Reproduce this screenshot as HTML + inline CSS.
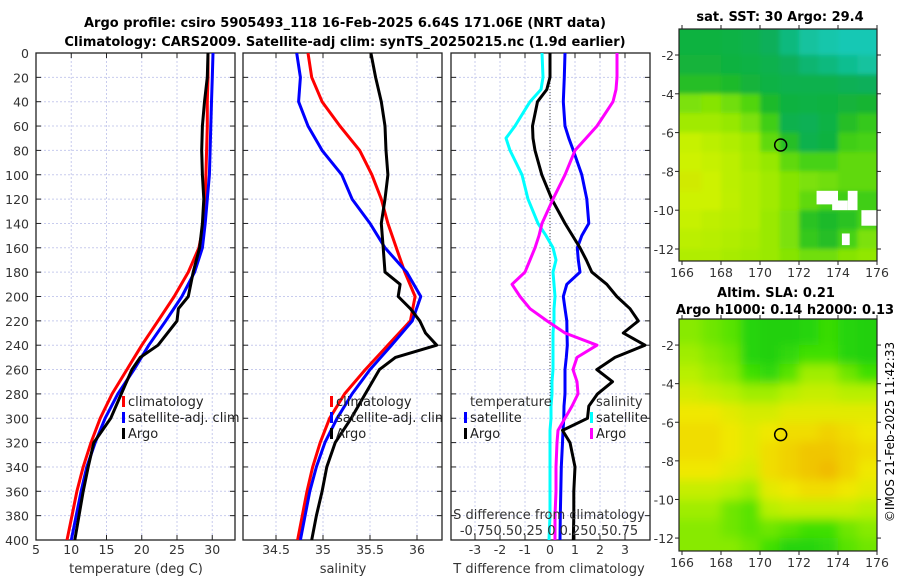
<!DOCTYPE html>
<html><head><meta charset="utf-8"><style>
html,body{margin:0;padding:0;background:#fff;}
svg{display:block;font-family:"DejaVu Sans","Liberation Sans",sans-serif;}
</style></head><body>
<svg id="c" width="900" height="580" viewBox="0 0 900 580" xmlns="http://www.w3.org/2000/svg">
<defs>
<clipPath id="cp1"><rect x="36" y="53" width="199" height="487"/></clipPath>
<clipPath id="cp2"><rect x="243" y="53" width="199" height="487"/></clipPath>
<clipPath id="cp3"><rect x="451" y="53" width="199" height="487"/></clipPath>
<clipPath id="cm1"><rect x="679" y="29" width="198" height="232"/></clipPath>
<clipPath id="cm2"><rect x="679" y="319" width="198" height="232"/></clipPath>
<filter id="bl1" x="-5%" y="-5%" width="110%" height="110%"><feGaussianBlur stdDeviation="2"/></filter>
<filter id="bl2" x="-5%" y="-5%" width="110%" height="110%"><feGaussianBlur stdDeviation="5"/></filter>
</defs>
<text x="345" y="27" text-anchor="middle" font-size="13" font-weight="bold">Argo profile: csiro 5905493_118 16-Feb-2025 6.64S 171.06E (NRT data)</text>
<text x="345" y="46" text-anchor="middle" font-size="13" font-weight="bold">Climatology: CARS2009. Satellite-adj clim: synTS_20250215.nc (1.9d earlier)</text>
<text x="780" y="21" text-anchor="middle" font-size="13" font-weight="bold">sat. SST: 30 Argo: 29.4</text>
<text x="776" y="297" text-anchor="middle" font-size="13" font-weight="bold">Altim. SLA: 0.21</text>
<text x="785" y="314" text-anchor="middle" font-size="13" font-weight="bold">Argo h1000: 0.14 h2000: 0.13</text>
<text transform="translate(894,432) rotate(-90)" text-anchor="middle" font-size="12">©IMOS 21-Feb-2025 11:42:33</text>
<g id="root"></g>
</svg>
<script>
// ---- profile data ----
const depths = [0,20,40,60,80,100,120,140,160,180,200,220,240,260,280,300,320,340,360,380,400];
const tempClim = [29.4,29.4,29.3,29.3,29.2,29.1,29.0,28.8,28.1,26.6,24.6,22.3,20.0,17.9,15.8,14.1,12.8,11.7,10.8,10.1,9.4];
const tempSat  = [30.1,30.0,29.9,29.8,29.7,29.6,29.3,29.0,28.6,27.5,25.7,23.4,21.0,18.9,16.6,14.8,13.4,12.2,11.4,10.7,10.0];
const argoTempDepths = [0,20,30,40,60,80,100,120,140,160,180,200,210,220,240,250,260,280,300,320,340,360,380,400];
const tempArgo = [29.4,29.3,29.1,28.9,28.6,28.5,28.6,28.8,28.6,28.2,27.3,26.6,25.2,25.0,22.3,19.8,18.6,17.1,15.6,13.2,12.4,11.7,11.1,10.5];
const salClim = [34.84,34.88,34.99,35.18,35.39,35.52,35.62,35.69,35.78,35.87,35.98,35.93,35.69,35.45,35.23,35.07,34.97,34.89,34.83,34.78,34.73];
const salSat  = [34.72,34.76,34.74,34.84,34.99,35.20,35.31,35.50,35.66,35.89,36.04,35.95,35.73,35.50,35.31,35.15,35.02,34.93,34.86,34.81,34.76];
const argoSalDepths = [0,20,40,60,80,100,120,140,160,180,190,200,210,220,230,240,250,260,280,300,320,340,360,380,400];
const salArgo = [35.51,35.56,35.62,35.66,35.67,35.69,35.66,35.62,35.64,35.66,35.82,35.80,35.93,36.03,36.09,36.21,35.77,35.60,35.45,35.30,35.13,35.04,34.99,34.93,34.88];
const diffDepths = [0,20,30,40,60,70,80,100,120,140,150,160,170,180,190,200,210,220,230,240,250,260,270,280,290,300,310,320,340,360,380,400];
const tDiffSat  = [0.6,0.57,0.55,0.53,0.6,0.75,0.93,1.27,1.47,1.55,1.27,1.09,1.13,1.2,0.67,0.53,0.6,0.67,0.68,0.69,0.65,0.6,0.6,0.6,0.56,0.55,0.52,0.5,0.45,0.43,0.41,0.4];
const tDiffArgo = [0,0,-0.13,-0.5,-0.7,-0.68,-0.6,-0.33,0.07,0.6,0.9,1.2,1.45,1.67,2.27,2.67,3.2,3.53,2.93,3.8,2.6,1.87,2.5,1.9,1.55,1.5,0.5,0.8,1.0,0.95,0.95,0.93];
const sDiffSat  = [-0.08,-0.07,-0.09,-0.2,-0.35,-0.44,-0.4,-0.28,-0.22,-0.12,-0.04,0.03,0.06,0.03,0.04,0.05,0.04,0.04,0.03,0.03,0.03,0.03,0.02,0.02,0.01,0.01,0.0,0.0,0.0,0.0,0.0,-0.01];
const sDiffArgo = [0.67,0.67,0.66,0.63,0.47,0.36,0.25,0.15,0.03,-0.08,-0.11,-0.15,-0.2,-0.25,-0.38,-0.3,-0.2,-0.03,0.15,0.47,0.27,0.23,0.27,0.28,0.22,0.15,0.08,0.07,0.06,0.06,0.05,0.05];
const depthTicks = [0,20,40,60,80,100,120,140,160,180,200,220,240,260,280,300,320,340,360,380,400];
const tempTicks = [5,10,15,20,25,30];
const salTicks = [34.5,35,35.5,36];
const tDiffTicks = [-3,-2,-1,0,1,2,3];
// ---- map data (values 0..1 in colour scale) ----
const mapLons = [166,167,168,169,170,171,172,173,174,175,176];
const mapLats = [-0.66,-2,-3,-4,-5,-6,-7,-8,-9,-10,-11,-12,-12.6];
const sstGrid = [
[0.3,0.3,0.28,0.25,0.2,0.12,0.05,0.02,0.0,0.0],
[0.32,0.32,0.3,0.28,0.25,0.2,0.15,0.12,0.08,0.05],
[0.4,0.4,0.38,0.32,0.28,0.25,0.25,0.25,0.22,0.2],
[0.6,0.62,0.58,0.52,0.38,0.3,0.28,0.3,0.32,0.35],
[0.68,0.68,0.65,0.6,0.48,0.25,0.22,0.28,0.4,0.45],
[0.78,0.75,0.72,0.68,0.55,0.4,0.25,0.3,0.48,0.5],
[0.8,0.78,0.75,0.7,0.65,0.55,0.5,0.5,0.55,0.55],
[0.82,0.8,0.75,0.72,0.68,0.62,0.6,0.58,0.55,0.55],
[0.8,0.8,0.76,0.72,0.68,0.62,0.55,0.5,0.48,0.48],
[0.78,0.76,0.74,0.72,0.66,0.6,0.42,0.38,0.42,0.5],
[0.75,0.74,0.72,0.7,0.66,0.6,0.45,0.4,0.5,0.6],
[0.72,0.72,0.7,0.68,0.66,0.62,0.58,0.58,0.62,0.64]];
const slaGrid = [
[0.45,0.4,0.35,0.15,0.1,0.1,0.15,0.25,0.15,0.1],
[0.5,0.45,0.4,0.15,0.1,0.2,0.3,0.3,0.15,0.1],
[0.55,0.5,0.45,0.3,0.2,0.35,0.5,0.5,0.4,0.3],
[0.65,0.6,0.55,0.5,0.5,0.55,0.6,0.6,0.55,0.55],
[0.75,0.75,0.7,0.65,0.65,0.7,0.7,0.7,0.7,0.7],
[0.8,0.8,0.75,0.7,0.75,0.8,0.8,0.85,0.8,0.75],
[0.8,0.8,0.75,0.7,0.8,0.85,0.9,0.9,0.85,0.8],
[0.75,0.75,0.7,0.65,0.8,0.85,0.9,0.95,0.85,0.75],
[0.6,0.6,0.55,0.5,0.7,0.75,0.8,0.8,0.75,0.7],
[0.5,0.5,0.4,0.35,0.55,0.6,0.6,0.6,0.6,0.55],
[0.45,0.45,0.4,0.35,0.4,0.35,0.3,0.3,0.4,0.45],
[0.45,0.45,0.45,0.4,0.3,0.15,0.15,0.2,0.35,0.4]];
const sstMissing = [[172.9,-9,1.1,0.7],[174.5,-9,0.5,1.0],[175.2,-10,1.0,0.8],[174.2,-11.2,0.4,0.6],[173.7,-9.5,0.8,0.5]];
const argoPos = [171.06,-6.64];
const lonTicks = [166,168,170,172,174,176];
const latTicks = [-2,-4,-6,-8,-10,-12];

const NS='http://www.w3.org/2000/svg';
const root=document.getElementById('root');
function mk(tag,attrs,parent){const e=document.createElementNS(NS,tag);for(const k in attrs)e.setAttribute(k,attrs[k]);(parent||root).appendChild(e);return e;}
const Y0=53,Y1=540;
const yD=d=>Y0+d*(Y1-Y0)/400;
const xT=v=>36+(v-5)*7.05;
const xS=v=>276+(v-34.5)*94;
const xTd=v=>550+v*25;
const xSd=v=>550+v*100;

function panel(x0,x1,name,xticks,xf,tickLabels){
  const g=mk('g',{});
  
  
  xticks.forEach(t=>{const x=xf(t);const l=mk('line',{x1:x,x2:x,y1:Y0,y2:Y1,stroke:'#c8ccee','stroke-width':1,'stroke-dasharray':'2,2'},g);
    });
  depthTicks.forEach(d=>{const y=yD(d);const l=mk('line',{x1:x0,x2:x1,y1:y,y2:y,stroke:'#c8ccee','stroke-width':1,'stroke-dasharray':'2,2'},g);
    
    mk('line',{x1:x0,x2:x0+5,y1:y,y2:y,stroke:'#222'},g);mk('line',{x1:x1-5,x2:x1,y1:y,y2:y,stroke:'#222'},g);});
  xticks.forEach((t,i)=>{const x=xf(t);mk('line',{x1:x,x2:x,y1:Y1,y2:Y1-5,stroke:'#222'},g);mk('line',{x1:x,x2:x,y1:Y0,y2:Y0+5,stroke:'#222'},g);
    const tx=mk('text',{x:x,y:Y1+14,'text-anchor':'middle','font-size':12.5,fill:'#333'},g);tx.textContent=tickLabels[i];
    });
  const fr=mk('rect',{x:x0,y:Y0,width:x1-x0,height:Y1-Y0,fill:'none',stroke:'#222','stroke-width':1.3},g);
  
  return g;
}
function line(g,xs,ds,xf,color,name,clip){
  const p=xs.map((v,i)=>(i?'L':'M')+xf(v).toFixed(1)+','+yD(ds[i]).toFixed(1)).join('');
  const e=mk('path',{d:p,fill:'none',stroke:color,'stroke-width':3,'stroke-linejoin':'round','clip-path':'url(#'+clip+')'},g);
  
}
function legend(g,x,y,color,label,name){
  mk('rect',{x:x,y:y-10,width:3,height:11,fill:color},g);
  const t=mk('text',{x:x+6,y:y,'font-size':13,fill:'#222'},g);t.textContent=label;
  
}
function txt(g,x,y,s,name,anchor,size){const t=mk('text',{x:x,y:y,'font-size':size||13,fill:'#333','text-anchor':anchor||'start'},g);t.textContent=s;
  return t;}

// panel 1
const g1=panel(36,235,'temperature-panel',tempTicks,xT,tempTicks.map(String));
depthTicks.forEach(d=>{txt(g1,29,yD(d)+5,String(d),'depth-tick-label','end',12.5);});
line(g1,tempClim,depths,xT,'#f00','temp-climatology-line','cp1');
line(g1,tempSat,depths,xT,'#00f','temp-satellite-line','cp1');
line(g1,tempArgo,argoTempDepths,xT,'#000','temp-argo-line','cp1');
legend(g1,122,406,'#f00','climatology','legend-climatology');
legend(g1,122,422,'#00f','satellite-adj. clim','legend-satellite');
legend(g1,122,438,'#000','Argo','legend-argo');
txt(g1,136,573,'temperature (deg C)','x-axis-title-temperature','middle',13);

// panel 2
const g2=panel(243,442,'salinity-panel',salTicks,xS,['34.5','35','35.5','36']);
line(g2,salClim,depths,xS,'#f00','sal-climatology-line','cp2');
line(g2,salSat,depths,xS,'#00f','sal-satellite-line','cp2');
line(g2,salArgo,argoSalDepths,xS,'#000','sal-argo-line','cp2');
const lg2=mk('g',{'clip-path':'url(#cp2)'},g2);
legend(lg2,330,406,'#f00','climatology','legend-climatology');
legend(lg2,330,422,'#00f','satellite-adj. clim','legend-satellite');
legend(lg2,330,438,'#000','Argo','legend-argo');
txt(g2,343,573,'salinity','x-axis-title-salinity','middle',13);

// panel 3
const g3=panel(451,650,'difference-panel',tDiffTicks,xTd,tDiffTicks.map(String));
const zl=mk('line',{x1:550,x2:550,y1:Y0,y2:Y1,stroke:'#444','stroke-width':1,'stroke-dasharray':'1,2'},g3);

line(g3,sDiffSat,diffDepths,xSd,'#0ff','sal-diff-satellite-line','cp3');
line(g3,tDiffSat,diffDepths,xTd,'#00f','temp-diff-satellite-line','cp3');
line(g3,tDiffArgo,diffDepths,xTd,'#000','temp-diff-argo-line','cp3');
line(g3,sDiffArgo,diffDepths,xSd,'#f0f','sal-diff-argo-line','cp3');
txt(g3,470,406,'temperature','legend-title-temperature','start',13);
legend(g3,464,422,'#00f','satellite','legend-temp-satellite');
legend(g3,464,438,'#000','Argo','legend-temp-argo');
txt(g3,596,406,'salinity','legend-title-salinity','start',13);
legend(g3,590,422,'#0ff','satellite','legend-sal-satellite');
legend(g3,590,438,'#f0f','Argo','legend-sal-argo');
txt(g3,549,519,'S difference from climatology','s-axis-title','middle',13);
txt(g3,549,535,'-0.750.50.25 0 0.250.50.75','s-axis-tick-labels','middle',13);
txt(g3,549,573,'T difference from climatology','x-axis-title-tdiff','middle',13);

// maps
function cmapSST(v){const stops=[[0,[20,200,180]],[0.2,[10,175,90]],[0.35,[20,180,50]],[0.5,[70,210,20]],[0.65,[150,232,0]],[0.8,[205,242,0]],[1,[240,160,0]]];return interp(stops,v);}
function cmapSLA(v){const stops=[[0,[16,200,24]],[0.3,[64,224,0]],[0.55,[184,240,0]],[0.75,[240,232,0]],[1,[240,176,0]]];return interp(stops,v);}
function interp(stops,v){for(let i=1;i<stops.length;i++){if(v<=stops[i][0]){const a=stops[i-1],b=stops[i];const f=(v-a[0])/(b[0]-a[0]);return 'rgb('+a[1].map((c,k)=>Math.round(c+(b[1][k]-c)*f)).join(',')+')';}}return 'rgb('+stops[stops.length-1][1].join(',')+')';}
function drawMap(name,grid,cmap,x0,x1,yTop,yBot,latTop,pxPerLat,clip,filt,missing){
  const xL=lon=>682+(lon-166)*19.5;
  const yL=lat=>yTop+(latTop-lat)*pxPerLat;
  const g=mk('g',{});
  
  const cg=mk('g',{'clip-path':'url(#'+clip+')'},g);
  const hg=mk('g',{filter:'url(#'+filt+')'},cg);
  grid.forEach((row,r)=>row.forEach((v,c)=>{
    const xa=c===0?x0-12:xL(mapLons[c]);const xb=c===row.length-1?x1+12:xL(mapLons[c+1]);
    const ya=r===0?yTop-12:yL(mapLats[r]);const yb=r===grid.length-1?yBot+12:yL(mapLats[r+1]);
    const e=mk('rect',{x:xa,y:ya,width:xb-xa+0.5,height:yb-ya+0.5,fill:cmap(v)},hg);
    
  }));
  (missing||[]).forEach(m=>{const e=mk('rect',{x:xL(m[0]),y:yL(m[1]),width:m[2]*19.5,height:m[3]*pxPerLat,fill:'#fff'},cg);
    });
  const mk1=mk('circle',{cx:xL(argoPos[0]),cy:yL(argoPos[1]),r:6,fill:'none',stroke:'#000','stroke-width':1.5},g);
  
  const fr=mk('rect',{x:x0,y:yTop,width:x1-x0,height:yBot-yTop,fill:'none',stroke:'#222','stroke-width':1.2},g);
  
  lonTicks.forEach(l=>{const x=xL(l);mk('line',{x1:x,x2:x,y1:yBot,y2:yBot+4,stroke:'#222'},g);mk('line',{x1:x,x2:x,y1:yTop,y2:yTop-4,stroke:'#222'},g);
    txt(g,x,yBot+16,String(l),'lon-tick-label','middle',12.5);});
  latTicks.forEach(l=>{const y=yL(l);mk('line',{x1:x0,x2:x0-4,y1:y,y2:y,stroke:'#222'},g);mk('line',{x1:x1,x2:x1+4,y1:y,y2:y,stroke:'#222'},g);
    txt(g,x0-5,y+5,String(l),'lat-tick-label','end',12.5);});
}
drawMap('sst-map',sstGrid,cmapSST,679,877,29,261,-0.66,19.4,'cm1','bl1',sstMissing);
drawMap('sla-map',slaGrid,cmapSLA,679,877,319,551,-0.65,19.3,'cm2','bl2',[]);
</script>
</body></html>
